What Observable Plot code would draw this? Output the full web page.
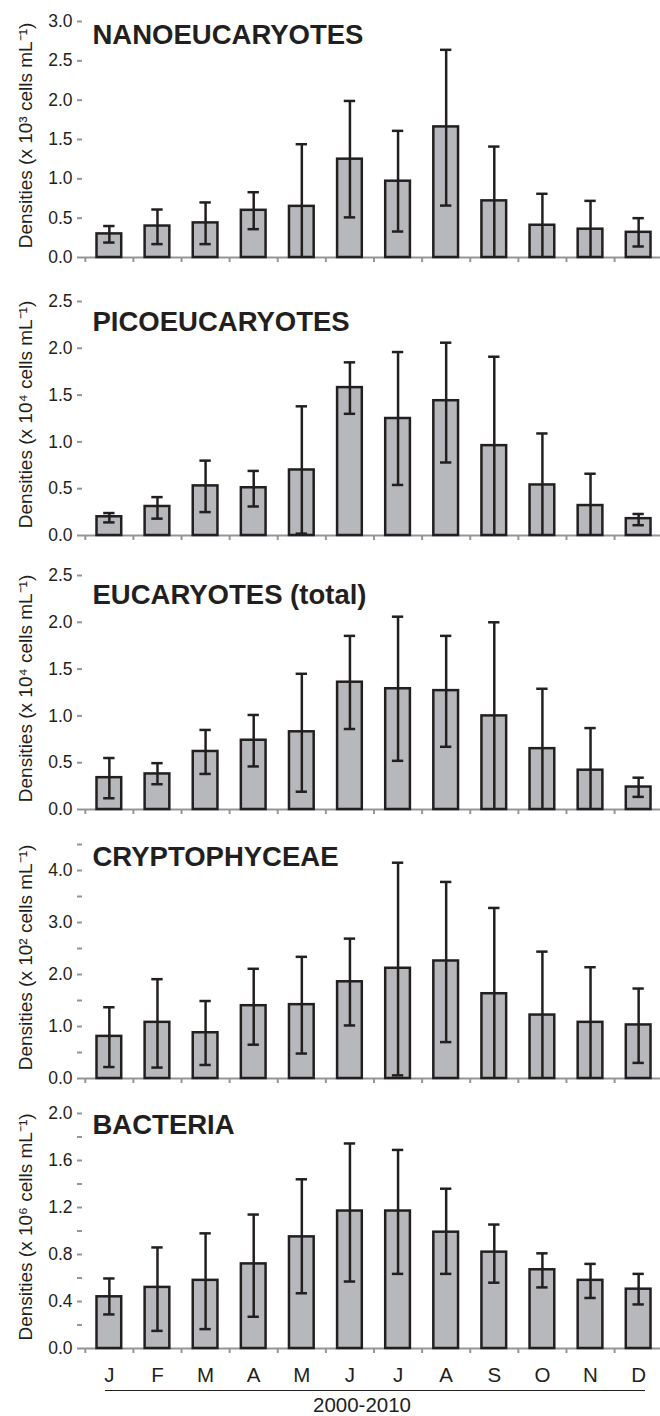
<!DOCTYPE html>
<html>
<head>
<meta charset="utf-8">
<script src="https://cdn.jsdelivr.net/npm/d3@7"></script>
<script src="https://cdn.jsdelivr.net/npm/@observablehq/plot@0.6"></script>
<style>
  html, body { margin: 0; padding: 0; background: #fff; }
  #wrap { position: relative; width: 660px; height: 1416px; overflow: hidden; font-family: "Liberation Sans", Arial, sans-serif; }
  .panel { position: absolute; left: 0; }
  #underline { position: absolute; left: 105px; width: 540px; top: 1390px; border-top: 1.5px solid #231f20; }
  #caption { position: absolute; left: 362px; top: 1395px; transform: translateX(-50%); font-size: 20.5px; line-height: 1; color: #231f20; white-space: nowrap; }
</style>
</head>
<body>
<div id="wrap">
  <div id="underline"></div>
  <div id="caption">2000-2010</div>
</div>
<script>
// ---- data ----
const months = ["J","F","M","A","M","J","J","A","S","O","N","D"];

const titles = ["NANOEUCARYOTES", "PICOEUCARYOTES", "EUCARYOTES (total)", "CRYPTOPHYCEAE", "BACTERIA"];
const yLabels = [
  "Densities (x 10³ cells mL⁻¹)",
  "Densities (x 10⁴ cells mL⁻¹)",
  "Densities (x 10⁴ cells mL⁻¹)",
  "Densities (x 10² cells mL⁻¹)",
  "Densities (x 10⁶ cells mL⁻¹)"
];

const nanoMean = [0.30, 0.40, 0.44, 0.60, 0.65, 1.25, 0.97, 1.66, 0.72, 0.41, 0.36, 0.32];
const nanoHi   = [0.40, 0.61, 0.70, 0.83, 1.44, 1.99, 1.61, 2.64, 1.41, 0.81, 0.72, 0.50];
const nanoLo   = [0.19, 0.17, 0.17, 0.36, 0,    0.51, 0.33, 0.66, 0,    0,    0,    0.14];

const picoMean = [0.20, 0.31, 0.53, 0.51, 0.70, 1.58, 1.25, 1.44, 0.96, 0.54, 0.32, 0.18];
const picoHi   = [0.24, 0.41, 0.80, 0.69, 1.38, 1.85, 1.96, 2.06, 1.91, 1.09, 0.66, 0.23];
const picoLo   = [0.14, 0.18, 0.25, 0.31, 0.02, 1.30, 0.54, 0.78, 0,    0,    0,    0.11];

const eucMean = [0.34, 0.38, 0.62, 0.74, 0.83, 1.36, 1.29, 1.27, 1.00, 0.65, 0.42, 0.24];
const eucHi   = [0.55, 0.495, 0.85, 1.01, 1.45, 1.855, 2.06, 1.855, 2.00, 1.29, 0.87, 0.34];
const eucLo   = [0.12, 0.27, 0.38, 0.46, 0.19, 0.86, 0.52, 0.67, 0,    0,    0,    0.135];

const cryMean = [0.81, 1.08, 0.88, 1.40, 1.42, 1.86, 2.12, 2.26, 1.63, 1.22, 1.08, 1.03];
const cryHi   = [1.37, 1.91, 1.49, 2.11, 2.34, 2.69, 4.15, 3.78, 3.28, 2.44, 2.14, 1.73];
const cryLo   = [0.22, 0.21, 0.26, 0.65, 0.48, 1.02, 0.06, 0.70, 0,    0,    0,    0.30];

const bacMean = [0.44, 0.52, 0.58, 0.72, 0.95, 1.17, 1.17, 0.99, 0.82, 0.67, 0.58, 0.505];
const bacHi   = [0.596, 0.86, 0.98, 1.14, 1.44, 1.745, 1.69, 1.36, 1.055, 0.81, 0.72, 0.635];
const bacLo   = [0.29, 0.15, 0.165, 0.27, 0.47, 0.57, 0.635, 0.635, 0.56, 0.52, 0.43, 0.375];

// tick values (minor = tick marks, major = labelled)
const nanoTicks = [0, 0.5, 1.0, 1.5, 2.0, 2.5, 3.0];
const picoTicks = [0, 0.5, 1.0, 1.5, 2.0, 2.5];
const eucTicks  = [0, 0.5, 1.0, 1.5, 2.0, 2.5];
const cryMinor  = [0, 0.5, 1.0, 1.5, 2.0, 2.5, 3.0, 3.5, 4.0, 4.5];
const cryMajor  = [0, 1.0, 2.0, 3.0, 4.0];
const bacMinor  = [0, 0.2, 0.4, 0.6, 0.8, 1.0, 1.2, 1.4, 1.6, 1.8, 2.0];
const bacMajor  = [0, 0.4, 0.8, 1.2, 1.6, 2.0];
const yMax = [3.0, 2.5, 2.5, 4.5, 2.0];

// ---- layout / style ----
const panels = [
  {mean: nanoMean, hi: nanoHi, lo: nanoLo, minor: nanoTicks, major: nanoTicks, top: 21,   h: 236, titleDy: 3},
  {mean: picoMean, hi: picoHi, lo: picoLo, minor: picoTicks, major: picoTicks, top: 301,  h: 234, titleDy: 10},
  {mean: eucMean,  hi: eucHi,  lo: eucLo,  minor: eucTicks,  major: eucTicks,  top: 575,  h: 234, titleDy: 9},
  {mean: cryMean,  hi: cryHi,  lo: cryLo,  minor: cryMinor,  major: cryMajor,  top: 844,  h: 234, titleDy: 2},
  {mean: bacMean,  hi: bacHi,  lo: bacLo,  minor: bacMinor,  major: bacMajor,  top: 1113, h: 235, titleDy: 1}
];
const AX = "#939598", INK = "#231f20", BAR = "#b7b8bb";
const MT = 20;
const capHalf = 0.118;
const wrap = document.getElementById("wrap");

panels.forEach((p, k) => {
  const last = k === panels.length - 1;
  const MB = last ? 60 : 20;
  const rows = months.map((m, i) => ({i, m, v: p.mean[i], hi: p.hi[i], lo: p.lo[i]}));
  const marks = [
    Plot.ruleY([0], {stroke: AX, strokeWidth: 2}),
    Plot.axisX({ticks: d3.range(0, 13), tickFormat: () => "", tickSize: 5, stroke: AX, strokeWidth: 2, label: null}),
    Plot.axisY({ticks: p.minor, tickFormat: () => "", tickSize: 5, line: true, stroke: AX, strokeWidth: 2, label: null}),
    Plot.axisY({ticks: p.major, tickFormat: d3.format(".1f"), tickSize: 0, tickPadding: 10, fontSize: 17.5, fill: INK, label: null}),
    Plot.text([yLabels[k]], {frameAnchor: "left", textAnchor: "middle", lineAnchor: "middle", rotate: -90, dx: -57, dy: -4, fontSize: 19, fill: INK}),
    Plot.rectY(rows, {x1: d => d.i, x2: d => d.i + 1, y: "v", insetLeft: 11.7, insetRight: 11.7, fill: BAR, stroke: INK, strokeWidth: 2.5}),
    Plot.ruleX(rows, {x: d => d.i + 0.5, y1: "lo", y2: "hi", stroke: INK, strokeWidth: 2.5}),
    Plot.ruleY(rows, {y: "hi", x1: d => d.i + 0.5 - capHalf, x2: d => d.i + 0.5 + capHalf, stroke: INK, strokeWidth: 2.5}),
    Plot.ruleY(rows.filter(d => d.lo > 0), {y: "lo", x1: d => d.i + 0.5 - capHalf, x2: d => d.i + 0.5 + capHalf, stroke: INK, strokeWidth: 2.5}),
    Plot.text([titles[k]], {frameAnchor: "top-left", dx: 10, dy: p.titleDy, lineAnchor: "top", textAnchor: "start", fontSize: 27.5, fontWeight: "bold", fill: INK})
  ];
  if (last) {
    marks.push(Plot.axisX({ticks: months.map((_, i) => i + 0.5), tickFormat: d => months[Math.floor(d)], tickSize: 0, tickPadding: 19, fontSize: 20.5, fill: INK, label: null}));
  }
  const svg = Plot.plot({
    width: 660,
    height: MT + p.h + MB,
    marginTop: MT, marginBottom: MB, marginLeft: 82, marginRight: 0,
    x: {type: "linear", domain: [0, 12], range: [84.8, 662.2]},
    y: {domain: [0, yMax[k]], range: [MT + p.h, MT]},
    style: {fontFamily: "'Liberation Sans', Arial, sans-serif", fontSize: "17.5px", color: INK, background: "transparent", overflow: "visible"},
    marks
  });
  const div = document.createElement("div");
  div.className = "panel";
  div.style.top = (p.top - MT) + "px";
  div.appendChild(svg);
  wrap.insertBefore(div, wrap.firstChild);
});
</script>
</body>
</html>
